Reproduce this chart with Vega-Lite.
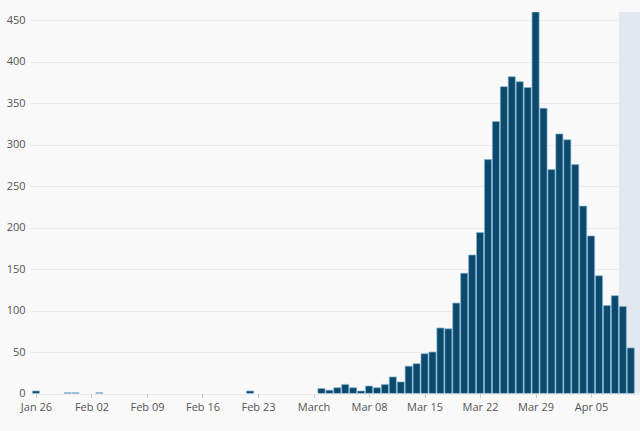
{
  "$schema": "https://vega.github.io/schema/vega-lite/v6.json",
  "width": 610,
  "height": 381.5,
  "autosize": {"type": "none"},
  "padding": {"left": 30, "top": 12, "right": 0, "bottom": 37.5},
  "background": "#f9f9f9",
  "config": {
    "view": {"stroke": null},
    "font": "Open Sans",
    "axis": {"labelFont": "Open Sans", "labelFontSize": 11, "labelColor": "#555555"}
  },
  "datasets": {
    "cases": [
      {"date": "2020-01-26", "count": 3},
      {"date": "2020-01-30", "count": 1},
      {"date": "2020-01-31", "count": 1},
      {"date": "2020-02-03", "count": 1},
      {"date": "2020-02-22", "count": 3},
      {"date": "2020-03-02", "count": 6},
      {"date": "2020-03-03", "count": 4},
      {"date": "2020-03-04", "count": 7},
      {"date": "2020-03-05", "count": 11},
      {"date": "2020-03-06", "count": 7},
      {"date": "2020-03-07", "count": 3},
      {"date": "2020-03-08", "count": 9},
      {"date": "2020-03-09", "count": 7},
      {"date": "2020-03-10", "count": 11},
      {"date": "2020-03-11", "count": 20},
      {"date": "2020-03-12", "count": 14},
      {"date": "2020-03-13", "count": 33},
      {"date": "2020-03-14", "count": 36},
      {"date": "2020-03-15", "count": 48},
      {"date": "2020-03-16", "count": 50},
      {"date": "2020-03-17", "count": 79},
      {"date": "2020-03-18", "count": 78},
      {"date": "2020-03-19", "count": 109},
      {"date": "2020-03-20", "count": 145},
      {"date": "2020-03-21", "count": 167},
      {"date": "2020-03-22", "count": 194},
      {"date": "2020-03-23", "count": 282},
      {"date": "2020-03-24", "count": 328},
      {"date": "2020-03-25", "count": 370},
      {"date": "2020-03-26", "count": 382},
      {"date": "2020-03-27", "count": 376},
      {"date": "2020-03-28", "count": 369},
      {"date": "2020-03-29", "count": 460},
      {"date": "2020-03-30", "count": 344},
      {"date": "2020-03-31", "count": 270},
      {"date": "2020-04-01", "count": 313},
      {"date": "2020-04-02", "count": 306},
      {"date": "2020-04-03", "count": 276},
      {"date": "2020-04-04", "count": 226},
      {"date": "2020-04-05", "count": 190},
      {"date": "2020-04-06", "count": 142},
      {"date": "2020-04-07", "count": 106},
      {"date": "2020-04-08", "count": 118},
      {"date": "2020-04-09", "count": 105},
      {"date": "2020-04-10", "count": 55}
    ],
    "shade": [
      {"start": "2020-04-08T12:00:00Z", "end": "2020-04-13T00:00:00Z"}
    ]
  },
  "layer": [
    {
      "data": {"name": "shade"},
      "mark": {"type": "rect", "color": "#e2e8f0", "clip": true},
      "encoding": {
        "x": {"field": "start", "type": "temporal", "scale": {"type": "utc"}},
        "x2": {"field": "end"}
      }
    },
    {
      "data": {"name": "cases"},
      "mark": {"type": "bar", "color": "#0b4a6c", "width": 7.1, "stroke": "#84b4d4", "strokeWidth": 0.7, "clip": true},
      "encoding": {
        "x": {
          "field": "date",
          "type": "temporal",
          "scale": {
            "type": "utc",
            "padding": 0,
            "domain": [
              {"year": 2020, "month": 1, "date": 25, "hours": 6, "utc": true},
              {"year": 2020, "month": 4, "date": 11, "hours": 4, "utc": true}
            ]
          },
          "axis": {
            "title": null,
            "tickCount": {"interval": "week", "step": 1},
            "grid": false,
            "domain": false,
            "tickColor": "#cccccc",
            "tickSize": 4,
            "labelPadding": 4,
            "labelFlush": false,
            "labelOverlap": false
          }
        },
        "y": {
          "field": "count",
          "type": "quantitative",
          "scale": {"domain": [0, 460], "nice": false},
          "axis": {
            "title": null,
            "values": [0, 50, 100, 150, 200, 250, 300, 350, 400, 450],
            "domain": false,
            "ticks": false,
            "labelPadding": 5,
            "gridColor": "#ebebeb",
            "gridWidth": 1
          }
        }
      }
    }
  ]
}
